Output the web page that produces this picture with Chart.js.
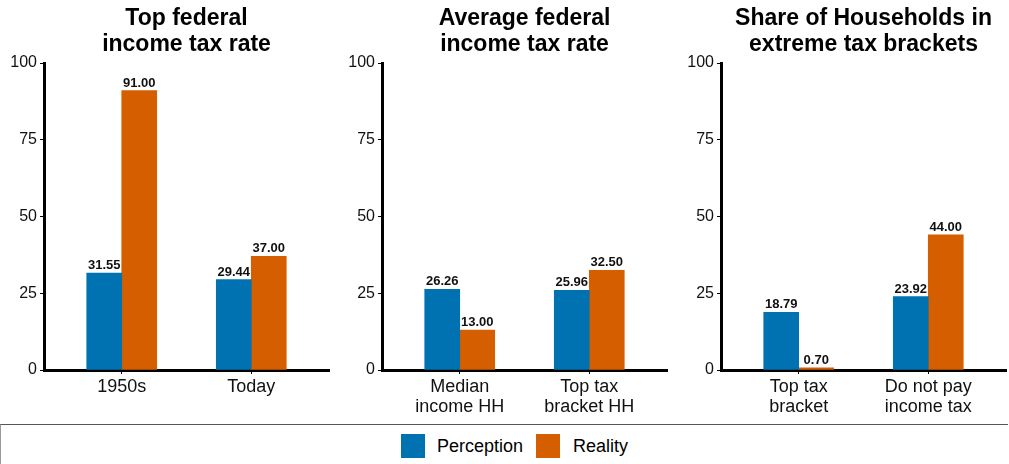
<!DOCTYPE html>
<html>
<head>
<meta charset="utf-8">
<script src="https://cdn.jsdelivr.net/npm/chart.js@4.4.0/dist/chart.umd.min.js"></script>
<style>
  body { margin: 0; background: #fff; font-family: "Liberation Sans", Arial, sans-serif; }
  #wrap { position: relative; width: 1009px; height: 464px; overflow: hidden; }
  .panel { position: absolute; top: 0; width: 336px; height: 424px; }
  #legend { position: absolute; left: 0; top: 424px; width: 1007px; height: 40px;
            border-top: 1px solid #555; border-left: 1px solid #999; }
  .sw { position: absolute; top: 9px; width: 24px; height: 24px; }
  .lt { position: absolute; top: 9px; font-size: 18px; line-height: 24px; color: #000; }
</style>
</head>
<body>
<div id="wrap">
  <div class="panel" style="left:0px"><canvas id="c1"></canvas></div>
  <div class="panel" style="left:338px"><canvas id="c2"></canvas></div>
  <div class="panel" style="left:677px"><canvas id="c3"></canvas></div>
  <div id="legend">
    <div class="sw" style="left:400px;background:#0072B2"></div>
    <div class="lt" style="left:436px">Perception</div>
    <div class="sw" style="left:535px;background:#D55E00"></div>
    <div class="lt" style="left:572px">Reality</div>
  </div>
</div>
<script>
// data
var seriesNames = ['Perception', 'Reality'];
var seriesColors = ['#0072B2', '#D55E00'];
var yTicks = [0, 25, 50, 75, 100];

var topTitle = ['Top federal', 'income tax rate'];
var topCats = [['1950s'], ['Today']];
var topPerception = [31.55, 29.44];
var topReality = [91.00, 37.00];

var avgTitle = ['Average federal', 'income tax rate'];
var avgCats = [['Median', 'income HH'], ['Top tax', 'bracket HH']];
var avgPerception = [26.26, 25.96];
var avgReality = [13.00, 32.50];

var shareTitle = ['Share of Households in', 'extreme tax brackets'];
var shareCats = [['Top tax', 'bracket'], ['Do not pay', 'income tax']];
var sharePerception = [18.79, 23.92];
var shareReality = [0.70, 44.00];

var FONT = '"Liberation Sans", Arial, sans-serif';

var titlePlugin = {
    id: 'panelTitle',
    afterDraw: function (chart) {
        var lines = chart.options.plugins.panelTitle.lines;
        var ctx = chart.ctx;
        var cx = (chart.chartArea.left + chart.chartArea.right) / 2;
        ctx.save();
        ctx.fillStyle = '#000';
        ctx.font = 'bold 23px ' + FONT;
        ctx.textAlign = 'center';
        ctx.textBaseline = 'alphabetic';
        ctx.fillText(lines[0], cx, 25);
        ctx.fillText(lines[1], cx, 51);
        ctx.restore();
    }
};

var valuePlugin = {
    id: 'valueLabels',
    afterDatasetsDraw: function (chart) {
        var ctx = chart.ctx;
        ctx.save();
        ctx.fillStyle = '#111';
        ctx.font = 'bold 13px ' + FONT;
        ctx.textAlign = 'center';
        ctx.textBaseline = 'alphabetic';
        chart.data.datasets.forEach(function (ds, i) {
            chart.getDatasetMeta(i).data.forEach(function (bar, j) {
                ctx.fillText(ds.data[j].y.toFixed(2), bar.x, bar.y - 4);
            });
        });
        ctx.restore();
    }
};

function makePanel(id, title, cats, perception, reality) {
    var toPts = function (arr) {
        return arr.map(function (v, i) { return { x: i + 1, y: v }; });
    };
    new Chart(document.getElementById(id), {
        type: 'bar',
        data: {
            datasets: [
                { label: seriesNames[0], backgroundColor: seriesColors[0], data: toPts(perception) },
                { label: seriesNames[1], backgroundColor: seriesColors[1], data: toPts(reality) }
            ]
        },
        options: {
            responsive: true,
            maintainAspectRatio: false,
            animation: false,
            barThickness: 35,
            layout: { padding: { top: 63, right: 7, left: 0, bottom: 0 } },
            plugins: {
                legend: { display: false },
                tooltip: { enabled: false },
                panelTitle: { lines: title }
            },
            scales: {
                x: {
                    type: 'linear',
                    min: 0.4,
                    max: 2.6,
                    offset: false,
                    afterBuildTicks: function (scale) {
                        scale.ticks = cats.map(function (c, i) { return { value: i + 1 }; });
                    },
                    afterFit: function (scale) { scale.height = 54; },
                    grid: { offset: false, drawOnChartArea: false, drawTicks: true, tickLength: 4, tickColor: '#000', tickWidth: 1 },
                    border: { display: true, color: '#000', width: 3 },
                    ticks: {
                        autoSkip: false,
                        maxRotation: 0,
                        padding: 3,
                        color: '#111',
                        font: { family: FONT, size: 18, lineHeight: 1.1 },
                        callback: function (v, i) { return cats[i]; }
                    }
                },
                y: {
                    min: 0,
                    max: 100,
                    afterBuildTicks: function (scale) {
                        scale.ticks = yTicks.map(function (t) { return { value: t }; });
                    },
                    afterFit: function (scale) { scale.width = 44; },
                    grid: { drawOnChartArea: false, drawTicks: true, tickLength: 4, tickColor: '#000', tickWidth: 1 },
                    border: { display: true, color: '#000', width: 3 },
                    ticks: {
                        padding: 3,
                        color: '#111',
                        font: { family: FONT, size: 16 }
                    }
                }
            }
        },
        plugins: [titlePlugin, valuePlugin]
    });
}

makePanel('c1', topTitle, topCats, topPerception, topReality);
makePanel('c2', avgTitle, avgCats, avgPerception, avgReality);
makePanel('c3', shareTitle, shareCats, sharePerception, shareReality);
</script>
</body>
</html>
